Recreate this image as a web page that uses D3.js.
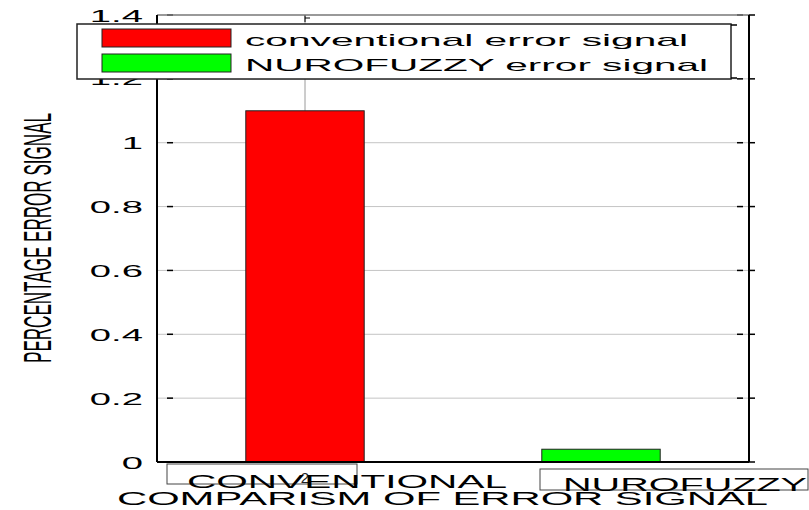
<!DOCTYPE html>
<html><head><meta charset="utf-8">
<script src="https://cdn.jsdelivr.net/npm/d3@7"></script>
<style>
html,body{margin:0;padding:0;background:#fff;}
svg{display:block;font-family:"Liberation Sans",Arial,Helvetica,sans-serif;}
</style></head>
<body>
<svg id="c" width="809" height="510"></svg>
<script>
const categories = ["CONVENTIONAL", "NUROFUZZY"];
const values = [1.1, 0.04];
const seriesNames = ["conventional error signal", "NUROFUZZY error signal"];
const colors = ["#ff0000", "#00ff00"];
const yTicks = [0, 0.2, 0.4, 0.6, 0.8, 1, 1.2, 1.4];
const xTickLabel = ["2"];
const xTitle = "COMPARISM OF ERROR SIGNAL";
const yTitle = "PERCENTAGE ERROR SIGNAL";

const svg = d3.select("#c");
const L = 157, R = 749, T = 15, B = 462;
const x = d3.scaleLinear().domain([0.5, 2.5]).range([L, R]);
const y = d3.scaleLinear().domain([0, 1.4]).range([B, T]);
const barW = 0.4;

// horizontal gridlines
svg.append("g").selectAll("line").data(yTicks.filter(d => d > 0 && d < 1.4)).join("line")
  .attr("x1", L).attr("x2", R).attr("y1", d => y(d)).attr("y2", d => y(d))
  .attr("stroke", "#c4c4c4").attr("stroke-width", 1);
// vertical gridline at first category
svg.append("line").attr("x1", x(1)).attr("x2", x(1)).attr("y1", T).attr("y2", y(values[0]))
  .attr("stroke", "#9a9a9a").attr("stroke-width", 1);

// bars
svg.append("g").selectAll("rect").data(values).join("rect")
  .attr("x", (d, i) => x(i + 1 - barW / 2))
  .attr("width", x(1 + barW / 2) - x(1 - barW / 2))
  .attr("y", d => y(d)).attr("height", d => B - y(d))
  .attr("fill", (d, i) => colors[i]).attr("stroke", "#222").attr("stroke-width", 1);

// left axis with stretched labels
const ya = svg.append("g").attr("transform", `translate(${L},0)`)
  .call(d3.axisLeft(y).tickValues(yTicks).tickSize(0).tickPadding(14).tickFormat(d3.format("")));
ya.select(".domain").remove();
ya.selectAll("text").attr("x", 0).attr("dy", null).attr("y", 6)
  .attr("transform", "translate(-14,0) scale(2.25,1)")
  .attr("font-size", 17).attr("font-family", "Liberation Sans, Arial, sans-serif").attr("fill", "#000");

// tick dashes
svg.append("g").selectAll("line").data(yTicks).join("line")
  .attr("x1", L + 10).attr("x2", L + 16).attr("y1", d => y(d)).attr("y2", d => y(d))
  .attr("stroke", "#000").attr("stroke-width", 1.5);
svg.append("g").selectAll("line").data(yTicks).join("line")
  .attr("x1", R - 12).attr("x2", R - 6).attr("y1", d => y(d)).attr("y2", d => y(d))
  .attr("stroke", "#000").attr("stroke-width", 1.5);
svg.append("g").selectAll("line").data(yTicks).join("line")
  .attr("x1", R).attr("x2", R + 6).attr("y1", d => y(d)).attr("y2", d => y(d))
  .attr("stroke", "#000").attr("stroke-width", 1.5);
svg.append("line").attr("x1", x(1)).attr("x2", x(1)).attr("y1", T).attr("y2", T + 7)
  .attr("stroke", "#000").attr("stroke-width", 1);
svg.append("line").attr("x1", x(1)).attr("x2", x(1) + 5).attr("y1", T + 3).attr("y2", T + 3)
  .attr("stroke", "#000").attr("stroke-width", 1);

// axes frame
svg.append("line").attr("x1", L).attr("x2", R).attr("y1", T).attr("y2", T).attr("stroke", "#777").attr("stroke-width", 1.5);
svg.append("line").attr("x1", L).attr("x2", L).attr("y1", T).attr("y2", B).attr("stroke", "#000").attr("stroke-width", 2);
svg.append("line").attr("x1", R).attr("x2", R).attr("y1", T).attr("y2", B).attr("stroke", "#000").attr("stroke-width", 2);
svg.append("line").attr("x1", L).attr("x2", R).attr("y1", B).attr("y2", B).attr("stroke", "#000").attr("stroke-width", 2);

// legend
const lg = svg.append("g");
lg.append("rect").attr("x", 77).attr("y", 24).attr("width", 654).attr("height", 55)
  .attr("fill", "#fff").attr("stroke", "#222").attr("stroke-width", 1.5);
lg.append("line").attr("x1", 731).attr("x2", 737).attr("y1", 25).attr("y2", 25).attr("stroke", "#000").attr("stroke-width", 1.5);
lg.append("line").attr("x1", 731).attr("x2", 737).attr("y1", 78).attr("y2", 78).attr("stroke", "#000").attr("stroke-width", 1.5);
const lgRows = [{y: 29, tb: 46, len: 443}, {y: 54, tb: 71, len: 463}];
seriesNames.forEach((s, i) => {
  lg.append("rect").attr("x", 102).attr("y", lgRows[i].y).attr("width", 129).attr("height", 18)
    .attr("fill", colors[i]).attr("stroke", "#222").attr("stroke-width", 1);
  lg.append("text").attr("x", 245).attr("y", lgRows[i].tb).attr("font-size", 17)
    .attr("textLength", lgRows[i].len).attr("lengthAdjust", "spacingAndGlyphs").text(s);
});

// category label boxes
const catBoxes = [{x: 167, y: 464, w: 190, h: 20, tx: 187, tb: 488, len: 320},
                  {x: 540, y: 469, w: 268, h: 21, tx: 563, tb: 491, len: 244}];
categories.forEach((c, i) => {
  const b = catBoxes[i];
  svg.append("rect").attr("x", b.x).attr("y", b.y).attr("width", b.w).attr("height", b.h)
    .attr("fill", "none").attr("stroke", "#444").attr("stroke-width", 1);
});
svg.append("text").attr("x", x(1)).attr("y", 483).attr("text-anchor", "middle")
  .attr("font-size", 15).attr("fill", "#222").text(xTickLabel[0]);
categories.forEach((c, i) => {
  const b = catBoxes[i];
  svg.append("text").attr("x", b.tx).attr("y", b.tb).attr("font-size", 18)
    .attr("textLength", b.len).attr("lengthAdjust", "spacingAndGlyphs").text(c);
});

// x title
svg.append("text").attr("x", 117).attr("y", 505).attr("font-size", 18)
  .attr("textLength", 651).attr("lengthAdjust", "spacingAndGlyphs").text(xTitle);

// y title (condensed)
svg.append("text").attr("transform", "translate(51,238) rotate(-90)")
  .attr("text-anchor", "middle").attr("font-size", 39)
  .attr("textLength", 250).attr("lengthAdjust", "spacingAndGlyphs").text(yTitle);
</script>
</body></html>
